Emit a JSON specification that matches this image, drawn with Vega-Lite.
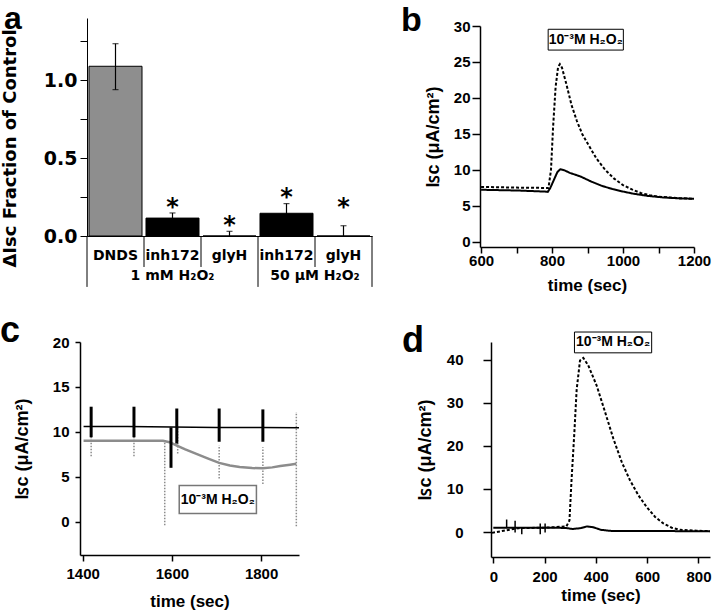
{
  "$schema": "https://vega.github.io/schema/vega-lite/v6.json",
  "autosize": "none",
  "padding": {"left": 87, "top": 26, "right": 625, "bottom": 588},
  "background": "white",
  "config": {
    "view": {"stroke": null},
    "axis": {"grid": false, "domainColor": "black", "tickColor": "black", "labelColor": "black", "titleColor": "black", "labelFlush": false, "labelOverlap": false}
  },
  "datasets": {
    "bars": [
      {"key": "DNDS|1mM", "mean": 1.09, "lo": 0.94, "hi": 1.235, "star": null},
      {"key": "inh172|1mM", "mean": 0.115, "lo": 0.085, "hi": 0.148, "star": 0.22},
      {"key": "glyH|1mM", "mean": 0.0, "lo": 0.0, "hi": 0.03, "star": 0.1},
      {"key": "inh172|50uM", "mean": 0.146, "lo": 0.085, "hi": 0.208, "star": 0.28},
      {"key": "glyH|50uM", "mean": 0.0, "lo": 0.0, "hi": 0.066, "star": 0.216}
    ],
    "b": [
      {"t": 600, "v": 7.25, "s": "trace 1"}, {"t": 700, "v": 7.15, "s": "trace 1"}, {"t": 780, "v": 7.0, "s": "trace 1"},
      {"t": 788, "v": 6.95, "s": "trace 1"}, {"t": 795, "v": 7.5, "s": "trace 1"}, {"t": 805, "v": 8.6, "s": "trace 1"},
      {"t": 815, "v": 9.7, "s": "trace 1"}, {"t": 823, "v": 10.1, "s": "trace 1"}, {"t": 835, "v": 9.95, "s": "trace 1"},
      {"t": 850, "v": 9.6, "s": "trace 1"}, {"t": 880, "v": 9.1, "s": "trace 1"}, {"t": 910, "v": 8.4, "s": "trace 1"},
      {"t": 940, "v": 7.8, "s": "trace 1"}, {"t": 970, "v": 7.35, "s": "trace 1"}, {"t": 1000, "v": 7.0, "s": "trace 1"},
      {"t": 1030, "v": 6.7, "s": "trace 1"}, {"t": 1070, "v": 6.4, "s": "trace 1"}, {"t": 1110, "v": 6.2, "s": "trace 1"},
      {"t": 1160, "v": 6.05, "s": "trace 1"}, {"t": 1200, "v": 6.0, "s": "trace 1"},
      {"t": 600, "v": 7.65, "s": "trace 2"}, {"t": 700, "v": 7.55, "s": "trace 2"}, {"t": 790, "v": 7.5, "s": "trace 2"},
      {"t": 797, "v": 10.0, "s": "trace 2"}, {"t": 803, "v": 16.0, "s": "trace 2"}, {"t": 810, "v": 21.5, "s": "trace 2"},
      {"t": 817, "v": 24.3, "s": "trace 2"}, {"t": 822, "v": 24.7, "s": "trace 2"}, {"t": 828, "v": 24.2, "s": "trace 2"},
      {"t": 840, "v": 22.0, "s": "trace 2"}, {"t": 855, "v": 19.0, "s": "trace 2"}, {"t": 870, "v": 16.8, "s": "trace 2"},
      {"t": 885, "v": 15.0, "s": "trace 2"}, {"t": 900, "v": 13.7, "s": "trace 2"}, {"t": 925, "v": 11.6, "s": "trace 2"},
      {"t": 950, "v": 10.0, "s": "trace 2"}, {"t": 975, "v": 8.8, "s": "trace 2"}, {"t": 1000, "v": 7.9, "s": "trace 2"},
      {"t": 1025, "v": 7.3, "s": "trace 2"}, {"t": 1050, "v": 6.8, "s": "trace 2"}, {"t": 1075, "v": 6.5, "s": "trace 2"},
      {"t": 1100, "v": 6.3, "s": "trace 2"}, {"t": 1150, "v": 6.1, "s": "trace 2"}, {"t": 1200, "v": 6.0, "s": "trace 2"}
    ],
    "c_black": [
      {"t": 1402, "v": 10.6}, {"t": 1500, "v": 10.6}, {"t": 1600, "v": 10.55}, {"t": 1700, "v": 10.5}, {"t": 1800, "v": 10.5}, {"t": 1885, "v": 10.45}
    ],
    "c_gray": [
      {"t": 1402, "v": 9.0}, {"t": 1450, "v": 9.0}, {"t": 1500, "v": 9.0}, {"t": 1550, "v": 9.0}, {"t": 1580, "v": 9.0},
      {"t": 1595, "v": 8.85}, {"t": 1610, "v": 8.5}, {"t": 1630, "v": 8.05}, {"t": 1655, "v": 7.55}, {"t": 1680, "v": 7.05},
      {"t": 1706, "v": 6.55}, {"t": 1730, "v": 6.25}, {"t": 1752, "v": 6.1}, {"t": 1780, "v": 5.97}, {"t": 1804, "v": 5.95},
      {"t": 1825, "v": 6.05}, {"t": 1843, "v": 6.2}, {"t": 1865, "v": 6.35}, {"t": 1879, "v": 6.45}
    ],
    "c_black_spikes": [
      {"t": 1419, "lo": 9.4, "hi": 12.8}, {"t": 1515, "lo": 9.4, "hi": 12.8}, {"t": 1598, "lo": 6.0, "hi": 10.5},
      {"t": 1611, "lo": 8.7, "hi": 12.6}, {"t": 1706, "lo": 8.9, "hi": 12.6}, {"t": 1804, "lo": 8.9, "hi": 12.5}
    ],
    "c_gray_spikes": [
      {"t": 1419, "lo": 7.3, "hi": 10.5}, {"t": 1515, "lo": 7.3, "hi": 10.5}, {"t": 1584, "lo": -0.4, "hi": 9.0},
      {"t": 1613, "lo": 7.6, "hi": 10.5}, {"t": 1706, "lo": 4.8, "hi": 8.5}, {"t": 1804, "lo": 4.2, "hi": 8.3},
      {"t": 1879, "lo": -0.5, "hi": 12.2}
    ],
    "d": [
      {"t": 0, "v": 1.0, "s": "trace 1"}, {"t": 100, "v": 1.0, "s": "trace 1"}, {"t": 200, "v": 1.0, "s": "trace 1"},
      {"t": 280, "v": 0.95, "s": "trace 1"}, {"t": 310, "v": 0.7, "s": "trace 1"}, {"t": 340, "v": 0.9, "s": "trace 1"},
      {"t": 365, "v": 1.3, "s": "trace 1"}, {"t": 390, "v": 1.1, "s": "trace 1"}, {"t": 420, "v": 0.5, "s": "trace 1"},
      {"t": 460, "v": 0.25, "s": "trace 1"}, {"t": 600, "v": 0.25, "s": "trace 1"}, {"t": 845, "v": 0.15, "s": "trace 1"},
      {"t": -5, "v": -0.2, "s": "trace 2"}, {"t": 40, "v": 0.3, "s": "trace 2"}, {"t": 100, "v": 0.9, "s": "trace 2"},
      {"t": 200, "v": 1.0, "s": "trace 2"}, {"t": 260, "v": 1.2, "s": "trace 2"}, {"t": 285, "v": 1.3, "s": "trace 2"},
      {"t": 297, "v": 2.7, "s": "trace 2"}, {"t": 305, "v": 12.0, "s": "trace 2"}, {"t": 316, "v": 23.0, "s": "trace 2"},
      {"t": 325, "v": 33.0, "s": "trace 2"}, {"t": 338, "v": 39.8, "s": "trace 2"}, {"t": 351, "v": 40.4, "s": "trace 2"},
      {"t": 370, "v": 38.7, "s": "trace 2"}, {"t": 403, "v": 34.0, "s": "trace 2"}, {"t": 436, "v": 27.8, "s": "trace 2"},
      {"t": 468, "v": 21.7, "s": "trace 2"}, {"t": 501, "v": 16.2, "s": "trace 2"}, {"t": 533, "v": 12.0, "s": "trace 2"},
      {"t": 566, "v": 8.5, "s": "trace 2"}, {"t": 598, "v": 5.8, "s": "trace 2"}, {"t": 631, "v": 3.5, "s": "trace 2"},
      {"t": 663, "v": 2.0, "s": "trace 2"}, {"t": 696, "v": 1.0, "s": "trace 2"}, {"t": 728, "v": 0.5, "s": "trace 2"},
      {"t": 793, "v": 0.3, "s": "trace 2"}, {"t": 845, "v": 0.2, "s": "trace 2"}
    ],
    "d_ticks": [
      {"t": 52, "lo": 0.9, "hi": 2.9}, {"t": 85, "lo": -0.1, "hi": 2.6}, {"t": 111, "lo": -0.5, "hi": 1.1},
      {"t": 183, "lo": -0.5, "hi": 2.0}, {"t": 202, "lo": -0.1, "hi": 2.0}
    ]
  },
  "spacing": 20,
  "vconcat": [
    {
      "hconcat": [
        {
          "width": 285,
          "height": 210,
          "data": {"name": "bars"},
          "encoding": {
            "x": {
              "field": "key", "type": "nominal",
              "scale": {"domain": ["DNDS|1mM", "inh172|1mM", "glyH|1mM", "inh172|50uM", "glyH|50uM"], "paddingInner": 0, "paddingOuter": 0},
              "axis": {"title": null, "ticks": false, "labelExpr": "split(datum.label, '|')[0]", "labelFont": "DejaVu Sans", "labelFontSize": 14, "labelFontWeight": "bold", "labelPadding": 12, "labelAngle": 0, "domainWidth": 1}
            }
          },
          "layer": [
            {
              "mark": {"type": "bar", "stroke": "black", "strokeWidth": 1, "width": {"band": 0.93}},
              "encoding": {
                "y": {
                  "field": "mean", "type": "quantitative",
                  "scale": {"domain": [0, 1.4], "range": [210, -8], "nice": false},
                  "axis": {"title": "ΔIsc Fraction of Control", "titleFont": "DejaVu Sans", "titleFontSize": 18, "titleFontWeight": "bold", "titlePadding": 24, "titleY": 122,
                    "values": [0, 0.25, 0.5, 0.75, 1, 1.25], "labelExpr": "datum.value % 0.5 == 0 ? format(datum.value, '.1f') : ''",
                    "labelFont": "DejaVu Sans", "labelFontSize": 19, "labelFontWeight": "bold", "labelPadding": 3, "tickSize": 7, "tickWidth": 1, "domainWidth": 1}
                },
                "fill": {"field": "key", "type": "nominal", "scale": {"domain": ["DNDS|1mM", "inh172|1mM", "glyH|1mM", "inh172|50uM", "glyH|50uM"], "range": ["#8e8e8e", "black", "black", "black", "black"]}, "legend": null}
              }
            },
            {
              "mark": {"type": "rule", "color": "black", "strokeWidth": 1.2},
              "encoding": {"y": {"field": "lo", "type": "quantitative"}, "y2": {"field": "hi"}}
            },
            {
              "mark": {"type": "tick", "color": "black", "thickness": 1.2, "size": 6, "orient": "horizontal"},
              "encoding": {"y": {"field": "hi", "type": "quantitative"}}
            },
            {
              "transform": [{"filter": "datum.key == 'DNDS|1mM'"}],
              "mark": {"type": "tick", "color": "black", "thickness": 1.2, "size": 6, "orient": "horizontal"},
              "encoding": {"y": {"field": "lo", "type": "quantitative"}}
            },
            {
              "transform": [{"filter": "datum.star != null"}],
              "mark": {"type": "text", "text": "*", "font": "DejaVu Sans", "fontSize": 24, "fontWeight": "bold", "baseline": "middle", "dy": 6, "color": "black"},
              "encoding": {"y": {"field": "star", "type": "quantitative"}}
            },
            {
              "data": {"values": [{"key": "inh172|1mM"}, {"key": "glyH|1mM"}, {"key": "glyH|50uM"}]},
              "mark": {"type": "rule", "color": "black", "strokeWidth": 1},
              "encoding": {"x": {"field": "key", "type": "nominal", "bandPosition": 0}, "y": {"datum": 0}, "y2": {"datum": -0.199}}
            },
            {
              "data": {"values": [{"key": "DNDS|1mM"}, {"key": "inh172|50uM"}]},
              "mark": {"type": "rule", "color": "black", "strokeWidth": 1},
              "encoding": {"x": {"field": "key", "type": "nominal", "bandPosition": 0}, "y": {"datum": 0}, "y2": {"datum": -0.327}}
            },
            {
              "data": {"values": [{"key": "glyH|50uM"}]},
              "mark": {"type": "rule", "color": "black", "strokeWidth": 1},
              "encoding": {"x": {"field": "key", "type": "nominal", "bandPosition": 1}, "y": {"datum": 0}, "y2": {"datum": -0.327}}
            },
            {
              "data": {"values": [{"key": "inh172|1mM", "label": "1 mM H₂O₂"}]},
              "mark": {"type": "text", "font": "DejaVu Sans", "fontSize": 14, "fontWeight": "bold", "baseline": "middle", "color": "black"},
              "encoding": {"x": {"field": "key", "type": "nominal", "bandPosition": 0.5}, "y": {"datum": -0.26}, "text": {"field": "label"}}
            },
            {
              "data": {"values": [{"key": "inh172|50uM", "label": "50 µM H₂O₂"}]},
              "mark": {"type": "text", "font": "DejaVu Sans", "fontSize": 14, "fontWeight": "bold", "baseline": "middle", "color": "black"},
              "encoding": {"x": {"field": "key", "type": "nominal", "bandPosition": 1}, "y": {"datum": -0.26}, "text": {"field": "label"}}
            },
            {
              "data": {"values": [{"key": "DNDS|1mM", "label": "a"}]},
              "mark": {"type": "text", "font": "Liberation Sans", "fontSize": 32, "fontWeight": "bold", "align": "left", "baseline": "alphabetic", "dx": -83, "dy": 11, "color": "black"},
              "encoding": {"x": {"field": "key", "type": "nominal", "bandPosition": 0}, "y": {"datum": 1.4}, "text": {"field": "label"}}
            }
          ]
        },
        {
          "width": 214,
          "height": 221,
          "encoding": {
            "x": {"field": "t", "type": "quantitative", "scale": {"domain": [597, 1200], "nice": false},
              "axis": {"title": "time (sec)", "titleFont": "Liberation Sans", "titleFontSize": 17, "titleFontWeight": "bold", "titlePadding": 9,
                "values": [600, 700, 800, 900, 1000, 1100, 1200], "labelExpr": "datum.value % 200 == 0 ? datum.label : ''", "format": "d",
                "labelFont": "Liberation Sans", "labelFontSize": 15, "labelFontWeight": "bold", "labelPadding": 0, "tickSize": 6, "tickWidth": 1.5, "domainWidth": 1.5}},
            "y": {"field": "v", "type": "quantitative", "scale": {"domain": [-0.7, 30], "nice": false},
              "axis": {"title": "Iꜱᴄ  (μA/cm²)", "titleFont": "Liberation Sans", "titleFontSize": 18, "titleFontWeight": "bold", "titlePadding": 11,
                "values": [0, 5, 10, 15, 20, 25, 30], "labelFont": "Liberation Sans", "labelFontSize": 15, "labelFontWeight": "bold", "labelPadding": 2, "tickSize": 8, "tickWidth": 1.5, "domainWidth": 1.5}}
          },
          "layer": [
            {
              "data": {"name": "b"},
              "mark": {"type": "line", "color": "black", "strokeWidth": 2},
              "encoding": {"strokeDash": {"field": "s", "type": "nominal", "scale": {"domain": ["trace 1", "trace 2"], "range": [[1, 0], [3, 2]]}, "legend": null}}
            },
            {
              "data": {"values": [{"t": 895, "v": 28.1}]},
              "mark": {"type": "point", "shape": "M-1.88,-0.52H1.88V0.52H-1.88Z", "size": 1600, "filled": true, "fill": "white", "stroke": "black", "strokeWidth": 1, "opacity": 1}
            },
            {
              "data": {"values": [{"t": 895, "v": 28.1, "label": "10⁻³M H₂O₂"}]},
              "mark": {"type": "text", "font": "Liberation Sans", "fontSize": 14, "fontWeight": "bold", "align": "center", "baseline": "middle", "color": "black"},
              "encoding": {"text": {"field": "label"}}
            },
            {
              "data": {"values": [{"t": 597, "v": 30, "label": "b"}]},
              "mark": {"type": "text", "font": "Liberation Sans", "fontSize": 34, "fontWeight": "bold", "align": "left", "baseline": "alphabetic", "dx": -79, "dy": 5, "color": "black"},
              "encoding": {"text": {"field": "label"}}
            }
          ]
        }
      ],
      "spacing": 108,
      "bounds": "flush"
    },
    {
      "hconcat": [
        {
          "width": 212,
          "height": 213,
          "encoding": {
            "x": {"field": "t", "type": "quantitative", "scale": {"domain": [1394, 1885], "range": [-7, 212], "nice": false},
              "axis": {"title": "time (sec)", "titleFont": "Liberation Sans", "titleFontSize": 17, "titleFontWeight": "bold", "titlePadding": 12,
                "values": [1400, 1600, 1800], "format": "d",
                "labelFont": "Liberation Sans", "labelFontSize": 15, "labelFontWeight": "bold", "labelPadding": 5, "tickSize": 6, "tickWidth": 1.5, "domainWidth": 1.5}},
            "y": {"field": "v", "type": "quantitative", "scale": {"domain": [-3.7, 20], "nice": false},
              "axis": {"title": "Iꜱᴄ  (μA/cm²)", "titleFont": "Liberation Sans", "titleFontSize": 18, "titleFontWeight": "bold", "titlePadding": 21, "offset": 7,
                "values": [0, 5, 10, 15, 20], "labelFont": "Liberation Sans", "labelFontSize": 15, "labelFontWeight": "bold", "labelPadding": 6, "tickSize": 5, "tickWidth": 1.5, "domainWidth": 1.5}}
          },
          "layer": [
            {
              "data": {"name": "c_gray"},
              "mark": {"type": "line", "color": "#8c8c8c", "strokeWidth": 2.5}
            },
            {
              "data": {"name": "c_gray_spikes"},
              "mark": {"type": "rule", "color": "#8c8c8c", "strokeWidth": 1.5, "strokeDash": [1.5, 1.5]},
              "encoding": {"y": {"field": "lo", "type": "quantitative"}, "y2": {"field": "hi"}}
            },
            {
              "data": {"name": "c_black"},
              "mark": {"type": "line", "color": "black", "strokeWidth": 1.5}
            },
            {
              "data": {"name": "c_black_spikes"},
              "mark": {"type": "rule", "color": "black", "strokeWidth": 3},
              "encoding": {"y": {"field": "lo", "type": "quantitative"}, "y2": {"field": "hi"}}
            },
            {
              "data": {"values": [{"t": 1703, "v": 2.47}]},
              "mark": {"type": "point", "shape": "M-1.93,-0.7H1.93V0.7H-1.93Z", "size": 1600, "filled": true, "fill": "white", "stroke": "#777777", "strokeWidth": 1.5, "opacity": 1}
            },
            {
              "data": {"values": [{"t": 1703, "v": 2.47, "label": "10⁻³M H₂O₂"}]},
              "mark": {"type": "text", "font": "Liberation Sans", "fontSize": 14, "fontWeight": "bold", "align": "center", "baseline": "middle", "color": "black"},
              "encoding": {"text": {"field": "label"}}
            },
            {
              "data": {"values": [{"t": 1394, "v": 20, "label": "c"}]},
              "mark": {"type": "text", "font": "Liberation Sans", "fontSize": 36, "fontWeight": "bold", "align": "left", "baseline": "alphabetic", "dx": -80, "dy": 0, "color": "black"},
              "encoding": {"text": {"field": "label"}}
            }
          ]
        },
        {
          "width": 219,
          "height": 215,
          "encoding": {
            "x": {"field": "t", "type": "quantitative", "scale": {"domain": [-9, 845], "nice": false},
              "axis": {"title": "time (sec)", "titleFont": "Liberation Sans", "titleFontSize": 17, "titleFontWeight": "bold", "titlePadding": 3,
                "values": [0, 200, 400, 600, 800], "format": "d",
                "labelFont": "Liberation Sans", "labelFontSize": 15, "labelFontWeight": "bold", "labelPadding": 6, "tickSize": 6, "tickWidth": 1.5, "domainWidth": 1.5}},
            "y": {"field": "v", "type": "quantitative", "scale": {"domain": [-5.8, 44.1], "nice": false},
              "axis": {"title": "Iꜱᴄ  (μA/cm²)", "titleFont": "Liberation Sans", "titleFontSize": 18, "titleFontWeight": "bold", "titlePadding": 12,
                "values": [0, 10, 20, 30, 40], "labelFont": "Liberation Sans", "labelFontSize": 15, "labelFontWeight": "bold", "labelPadding": 20, "tickSize": 8, "tickWidth": 1.5, "domainWidth": 1.5}}
          },
          "layer": [
            {
              "data": {"name": "d"},
              "mark": {"type": "line", "color": "black", "strokeWidth": 2},
              "encoding": {"strokeDash": {"field": "s", "type": "nominal", "scale": {"domain": ["trace 1", "trace 2"], "range": [[1, 0], [9, 6]]}, "legend": null}}
            },
            {
              "data": {"name": "d_ticks"},
              "mark": {"type": "rule", "color": "black", "strokeWidth": 1.5},
              "encoding": {"y": {"field": "lo", "type": "quantitative"}, "y2": {"field": "hi"}}
            },
            {
              "data": {"values": [{"t": 467, "v": 44.0}]},
              "mark": {"type": "point", "shape": "M-1.93,-0.52H1.93V0.52H-1.93Z", "size": 1600, "filled": true, "fill": "white", "stroke": "black", "strokeWidth": 1, "opacity": 1}
            },
            {
              "data": {"values": [{"t": 467, "v": 44.0, "label": "10⁻³M H₂O₂"}]},
              "mark": {"type": "text", "font": "Liberation Sans", "fontSize": 14, "fontWeight": "bold", "align": "center", "baseline": "middle", "color": "black"},
              "encoding": {"text": {"field": "label"}}
            },
            {
              "data": {"values": [{"t": -9, "v": 44.1, "label": "d"}]},
              "mark": {"type": "text", "font": "Liberation Sans", "fontSize": 36, "fontWeight": "bold", "align": "left", "baseline": "alphabetic", "dx": -89, "dy": 10, "color": "black"},
              "encoding": {"text": {"field": "label"}}
            }
          ]
        }
      ],
      "spacing": 192,
      "bounds": "flush"
    }
  ]
}
